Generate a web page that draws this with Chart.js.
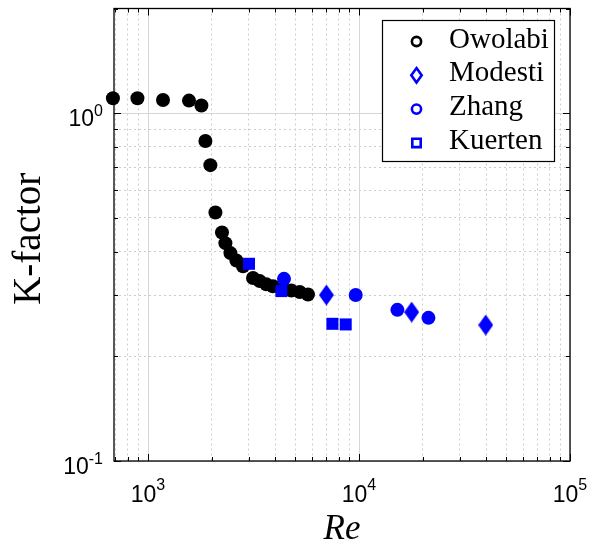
<!DOCTYPE html>
<html>
<head>
<meta charset="utf-8">
<script src="https://cdn.jsdelivr.net/npm/chart.js@4.4.0/dist/chart.umd.min.js"></script>
<style>
  html, body { margin: 0; padding: 0; background: #fff; }
  #wrap { width: 590px; height: 545px; }
</style>
</head>
<body>
<div id="wrap"><canvas id="chart" width="590" height="545"></canvas></div>
<script>
// Series labels (legend order)
const seriesNames = ['Owolabi', 'Modesti', 'Zhang', 'Kuerten'];

// Values (Re, K-factor)
const owolabiRe = [682, 891, 1178, 1564, 1791, 1871, 1975, 2087, 2242, 2327, 2458, 2624, 2820, 3146, 3383, 3638, 3909, 4365, 4782, 5236, 5731];
const owolabiK  = [1.104, 1.104, 1.091, 1.087, 1.052, 0.832, 0.709, 0.518, 0.454, 0.423, 0.396, 0.377, 0.363, 0.336, 0.329, 0.322, 0.318, 0.313, 0.309, 0.306, 0.301];

const modestiRe = [7006, 17770, 39860];
const modestiK  = [0.300, 0.268, 0.246];

const zhangRe = [4411, 9647, 15200, 21340];
const zhangK  = [0.334, 0.300, 0.272, 0.258];

const kuertenRe = [3011, 4288, 7482, 8650];
const kuertenK  = [0.369, 0.308, 0.248, 0.247];

// Axis ranges and decade tick labels (exponents of 10)
const xRange = [690, 100000];
const yRange = [0.1, 2];
const xTickExponents = [3, 4, 5];
const yTickExponents = [-1, 0];

function toPoints(xs, ys) {
    return xs.map((x, i) => ({ x: x, y: ys[i] }));
}

// grid values 1..9 x 10^n inside a range
function logGridValues(min, max) {
    const out = [];
    for (let e = Math.floor(Math.log10(min)); e <= Math.ceil(Math.log10(max)); e++) {
        for (let m = 1; m <= 9; m++) {
            const v = m * Math.pow(10, e);
            if (v >= min * 0.999 && v <= max * 1.001) out.push(+v.toPrecision(6));
        }
    }
    return out;
}
function isDecade(v) {
    const l = Math.log10(v);
    return Math.abs(l - Math.round(l)) < 1e-6;
}

// marker image for the diamond (tall, like the original)
function diamondImage(w, h, fill) {
    const c = document.createElement('canvas');
    c.width = w; c.height = h;
    const g = c.getContext('2d');
    g.beginPath();
    g.moveTo(w / 2, 0);
    g.lineTo(w, h / 2);
    g.lineTo(w / 2, h);
    g.lineTo(0, h / 2);
    g.closePath();
    g.fillStyle = fill;
    g.fill();
    return c;
}
const BLUE = '#0000ff';
const diamondFilled = diamondImage(15, 21, BLUE);

// frame, inward ticks, tick labels, axis titles
const axesDecor = {
    id: 'axesDecor',
    beforeDatasetsDraw(chart) {
        const { ctx, chartArea: a, scales } = chart;
        ctx.save();
        ctx.strokeStyle = '#000';
        ctx.lineWidth = 1.3;
        ctx.strokeRect(a.left, a.top, a.right - a.left, a.bottom - a.top);
        ctx.lineWidth = 1;
        ctx.beginPath();
        logGridValues(xRange[0], xRange[1]).forEach(v => {
            const px = Math.round(scales.x.getPixelForValue(v)) + 0.5;
            const len = isDecade(v) ? 7 : 4;
            ctx.moveTo(px, a.bottom); ctx.lineTo(px, a.bottom - len);
            ctx.moveTo(px, a.top); ctx.lineTo(px, a.top + len);
        });
        logGridValues(yRange[0], yRange[1]).forEach(v => {
            const py = Math.round(scales.y.getPixelForValue(v)) + 0.5;
            const len = isDecade(v) ? 7 : 4;
            ctx.moveTo(a.left, py); ctx.lineTo(a.left + len, py);
            ctx.moveTo(a.right, py); ctx.lineTo(a.right - len, py);
        });
        ctx.stroke();
        ctx.restore();
    },
    afterDraw(chart) {
        const { ctx, chartArea: a, scales } = chart;
        ctx.save();
        ctx.fillStyle = '#000';
        const base = "23px 'Liberation Sans', Arial, sans-serif";
        const sup = "16px 'Liberation Sans', Arial, sans-serif";

        // x tick labels
        xTickExponents.forEach(e => {
            const px = scales.x.getPixelForValue(Math.pow(10, e));
            ctx.font = base; const w1 = ctx.measureText('10').width;
            ctx.font = sup; const w2 = ctx.measureText(String(e)).width;
            const x0 = px - (w1 + w2) / 2;
            ctx.font = base; ctx.fillText('10', x0, a.bottom + 41);
            ctx.font = sup; ctx.fillText(String(e), x0 + w1, a.bottom + 29);
        });
        // y tick labels
        yTickExponents.forEach(e => {
            const py = scales.y.getPixelForValue(Math.pow(10, e));
            const es = e < 0 ? '-' + Math.abs(e) : String(e);
            ctx.font = sup; const w2 = ctx.measureText(es).width;
            ctx.font = base; const w1 = ctx.measureText('10').width;
            const x1 = a.left - 11;
            ctx.font = base; ctx.fillText('10', x1 - w2 - w1, py + 12.5);
            ctx.font = sup; ctx.fillText(es, x1 - w2, py + 2.5);
        });

        // axis titles
        ctx.font = "italic 35px 'Liberation Serif', 'Times New Roman', serif";
        ctx.textAlign = 'center';
        ctx.fillText('Re', (a.left + a.right) / 2, 539);
        ctx.save();
        ctx.translate(40, (a.top + a.bottom) / 2 + 4);
        ctx.rotate(-Math.PI / 2);
        ctx.font = "39px 'Liberation Serif', 'Times New Roman', serif";
        ctx.fillText('K-factor', 0, 0);
        ctx.restore();
        ctx.restore();
    }
};

// boxed legend inside the plot, hollow markers
const boxLegend = {
    id: 'boxLegend',
    afterDraw(chart) {
        const { ctx } = chart;
        const box = { x: 382.5, y: 20.5, w: 172, h: 141 };
        ctx.save();
        ctx.fillStyle = '#fff';
        ctx.fillRect(box.x, box.y, box.w, box.h);
        ctx.strokeStyle = '#000';
        ctx.lineWidth = 1.2;
        ctx.strokeRect(box.x, box.y, box.w, box.h);

        chart.data.datasets.forEach((ds, i) => {
            const cy = 41.5 + i * 33.8;
            const cx = 416.5;
            ctx.strokeStyle = ds.borderColor;
            ctx.lineWidth = 2.6;
            ctx.beginPath();
            if (ds.legendShape === 'circle') {
                ctx.arc(cx, cy, 4.6, 0, Math.PI * 2);
            } else if (ds.legendShape === 'diamond') {
                ctx.moveTo(cx, cy - 7.2); ctx.lineTo(cx + 5.2, cy);
                ctx.lineTo(cx, cy + 7.2); ctx.lineTo(cx - 5.2, cy);
                ctx.closePath();
            } else {
                ctx.rect(cx - 4.2, cy - 4.2, 8.4, 8.4);
            }
            ctx.stroke();
            ctx.fillStyle = '#000';
            ctx.font = "29px 'Liberation Serif', 'Times New Roman', serif";
            ctx.textAlign = 'left';
            ctx.fillText(ds.label, 449, cy + 6);
        });
        ctx.restore();
    }
};

const gridX = logGridValues(xRange[0], xRange[1]);
const gridY = logGridValues(yRange[0], yRange[1]);
const majorX = gridX.filter(isDecade), minorX = gridX.filter(v => !isDecade(v));
const majorY = gridY.filter(isDecade), minorY = gridY.filter(v => !isDecade(v));

// one axis pair for solid decade lines, one for dotted minor lines
function logAxis(range, values, axis, dash, color) {
    return {
        type: 'logarithmic',
        axis: axis,
        position: axis === 'x' ? 'bottom' : 'left',
        min: range[0], max: range[1],
        afterBuildTicks: s => { s.ticks = values.map(v => ({ value: v })); },
        ticks: { display: false },
        grid: { drawTicks: false, lineWidth: 1, color: color },
        border: { display: false, dash: dash }
    };
}

const ctx = document.getElementById('chart').getContext('2d');
new Chart(ctx, {
    type: 'scatter',
    data: {
        datasets: [
            {
                label: seriesNames[0], data: toPoints(owolabiRe, owolabiK),
                backgroundColor: '#000', borderColor: '#000', borderWidth: 0,
                pointStyle: 'circle', pointRadius: 7, legendShape: 'circle', order: 4
            },
            {
                label: seriesNames[1], data: toPoints(modestiRe, modestiK),
                backgroundColor: BLUE, borderColor: BLUE, borderWidth: 0,
                pointStyle: diamondFilled, legendShape: 'diamond', order: 3
            },
            {
                label: seriesNames[2], data: toPoints(zhangRe, zhangK),
                backgroundColor: BLUE, borderColor: BLUE, borderWidth: 0,
                pointStyle: 'circle', pointRadius: 7, legendShape: 'circle', order: 2
            },
            {
                label: seriesNames[3], data: toPoints(kuertenRe, kuertenK),
                backgroundColor: BLUE, borderColor: BLUE, borderWidth: 0,
                pointStyle: 'rect', pointRadius: 8.5, legendShape: 'rect', order: 1
            }
        ]
    },
    options: {
        responsive: false,
        animation: false,
        clip: false,
        layout: { padding: { left: 114, right: 20, top: 5, bottom: 84 } },
        plugins: {
            legend: { display: false },
            tooltip: { enabled: false }
        },
        scales: {
            xMinor: logAxis(xRange, minorX, 'x', [2, 3], '#cccccc'),
            yMinor: logAxis(yRange, minorY, 'y', [2, 3], '#cccccc'),
            x: logAxis(xRange, majorX, 'x', [], '#d6d6d6'),
            y: logAxis(yRange, majorY, 'y', [], '#d6d6d6')
        }
    },
    plugins: [axesDecor, boxLegend]
});
</script>
</body>
</html>
